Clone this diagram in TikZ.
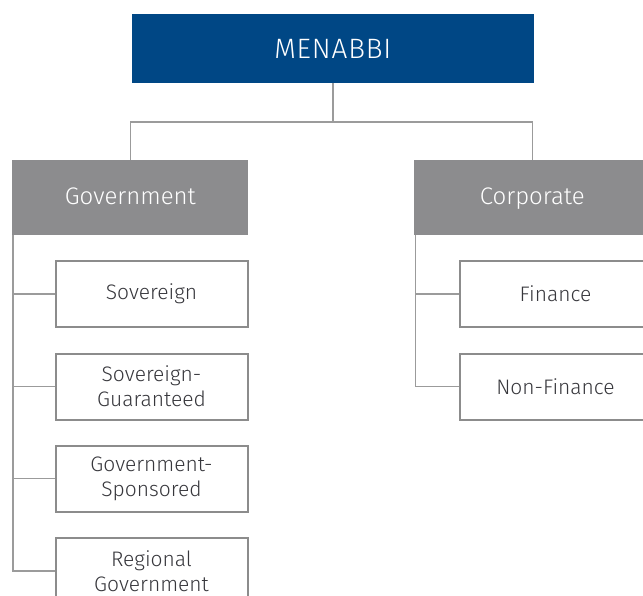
\documentclass[tikz,border=0pt]{standalone}
\usepackage{fontspec}
\setmainfont{Fira Sans}[UprightFont=* Light]
\definecolor{topblue}{RGB}{0,71,133}
\definecolor{headgray}{RGB}{140,140,142}
\definecolor{linegray}{RGB}{155,155,155}
\definecolor{boxgray}{RGB}{140,140,140}
\definecolor{txtgray}{RGB}{55,55,60}
\begin{document}
\begin{tikzpicture}[x=1pt,y=-1pt,
  topbox/.style={fill=topblue,draw=none,text=white,minimum width=401.7pt,minimum height=68.7pt,inner sep=0pt,text height=20pt,text depth=0pt,font=\fontsize{28}{32}\selectfont\addfontfeature{LetterSpace=3}},
  headbox/.style={fill=headgray,draw=none,text=white,minimum width=236pt,minimum height=75pt,inner sep=0pt,text height=18pt,text depth=3pt,font=\fontsize{24}{28}\selectfont},
  leafbox/.style={draw=boxgray,line width=2pt,fill=white,text=txtgray,minimum width=192pt,minimum height=66pt,inner sep=0pt,align=center,font=\fontsize{21}{25}\selectfont},
  conn/.style={draw=linegray,line width=1.6pt}]
\useasboundingbox (0,0) rectangle (643,596);
\node[topbox] (root) at (332.85,48.35) {MENABBI};
\node[headbox] (gov) at (130.3,197.5) {Government};
\node[headbox] (corp) at (532.3,197.5) {Corporate};
\node[leafbox] (sov) at (151.5,294) {Sovereign};
\node[leafbox] (sovg) at (151.5,386.5) {Sovereign-\\Guaranteed};
\node[leafbox] (govs) at (151.5,478.5) {Government-\\Sponsored};
\node[leafbox] (reg) at (151.5,571) {Regional\\Government};
\node[leafbox] (fin) at (555.5,294) {Finance};
\node[leafbox] (nfin) at (555.5,386.5) {Non-Finance};
\coordinate (hy) at (0,122);
\coordinate (gx) at (13,0);
\coordinate (cx) at (415.5,0);
\draw[conn] (root.south) -- (root.south |- hy);
\draw[conn] (gov.north) -- (gov.north |- hy) -- (corp.north |- hy) -- (corp.north);
\draw[conn] (gx |- gov.south) -- (gx |- reg.west) -- (reg.west);
\draw[conn] (gx |- sov.west) -- (sov.west);
\draw[conn] (gx |- sovg.west) -- (sovg.west);
\draw[conn] (gx |- govs.west) -- (govs.west);
\draw[conn] (cx |- corp.south) -- (cx |- nfin.west) -- (nfin.west);
\draw[conn] (cx |- fin.west) -- (fin.west);
\end{tikzpicture}
\end{document}
